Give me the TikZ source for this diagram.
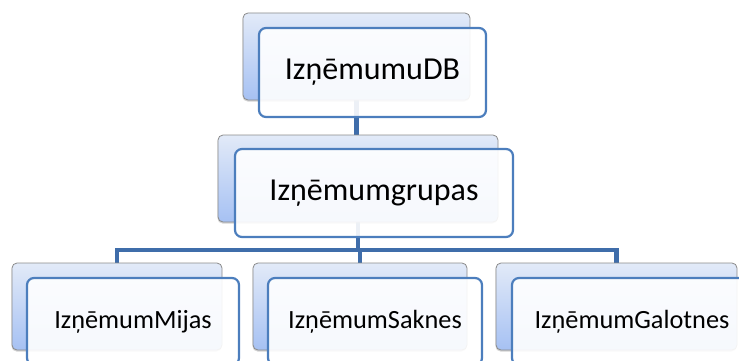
\documentclass[tikz,border=0pt]{standalone}
\usepackage{fontspec}
\setmainfont{Carlito}
\usetikzlibrary{shadows}
\definecolor{backtop}{HTML}{E2EAF8}
\definecolor{backbot}{HTML}{A6C1F3}
\definecolor{backline}{HTML}{8A8A8A}
\definecolor{frontline}{HTML}{4C7EBD}
\definecolor{conn}{HTML}{3F6DAA}
\tikzset{
  backbox/.style={rectangle, rounded corners=5pt, draw=backline, line width=0.8pt,
    top color=backtop, bottom color=backbot, inner sep=0pt, outer sep=0pt,
    drop shadow={shadow xshift=-0.5pt, shadow yshift=-1.5pt, opacity=0.35}},
  frontbox/.style={rectangle, rounded corners=7pt, draw=frontline, line width=2.2pt,
    fill=white, fill opacity=0.9, draw opacity=1, text opacity=1, inner sep=0pt, outer sep=0pt},
  bigtext/.style={font=\fontsize{32}{36}\selectfont},
  smalltext/.style={font=\fontsize{26.3}{30}\selectfont},
  connector/.style={draw=conn, line width=4.8pt},
  anchorbox/.style={inner sep=0pt, outer sep=0pt, minimum height=87pt}
}
\begin{document}
\begin{tikzpicture}[x=1pt,y=-1pt]
\useasboundingbox (0,0) rectangle (739,361);
\clip (0,0) rectangle (739,361);
\path (356.5,56.5) coordinate (tbpos)
      (358,178.5) coordinate (mbpos)
      (117,306.5) coordinate (lbpos)
      (360,306.5) coordinate (cbpos)
      (616.5,306.5) coordinate (rbpos);
% invisible anchors for connectors
\node[anchorbox, minimum width=227pt] (tbx) at (tbpos) {};
\node[anchorbox, minimum width=280pt] (mbx) at (mbpos) {};
\node[anchorbox, minimum width=210pt] (lbx) at (lbpos) {};
\node[anchorbox, minimum width=214pt] (cbx) at (cbpos) {};
\node[anchorbox, minimum width=241pt] (rbx) at (rbpos) {};
\coordinate (bar) at (358,250);
% connectors
\draw[connector] (tbx.south) -- (tbx.south |- mbx.north);
\draw[connector, line join=miter] (mbx.south) -- (bar) -| (lbx.north);
\draw[connector, line join=miter] (bar) -| (rbx.north);
\draw[connector] (bar) -| (cbx.north);
% back boxes
\node[backbox, minimum width=227pt, minimum height=87pt] (tb) at (tbpos) {};
\node[backbox, minimum width=280pt, minimum height=87pt] (mb) at (mbpos) {};
\node[backbox, minimum width=210pt, minimum height=87pt] (lb) at (lbpos) {};
\node[backbox, minimum width=214pt, minimum height=87pt] (cb) at (cbpos) {};
\node[backbox, minimum width=241pt, minimum height=87pt] (rb) at (rbpos) {};
% front boxes
\node[frontbox, bigtext, minimum width=227pt, minimum height=89pt] (tf) at (372.5,72.5) {IzņēmumuDB};
\node[frontbox, bigtext, minimum width=278pt, minimum height=88pt] (mf) at (374,193) {Izņēmumgrupas};
\node[frontbox, smalltext, minimum width=212pt, minimum height=87pt] (lf) at (133,321.5) {IzņēmumMijas};
\node[frontbox, smalltext, minimum width=214pt, minimum height=87pt] (cf) at (375,321.5) {IzņēmumSaknes};
\node[frontbox, smalltext, minimum width=240pt, minimum height=87pt] (rf) at (632,321.5) {IzņēmumGalotnes};
\end{tikzpicture}
\end{document}
